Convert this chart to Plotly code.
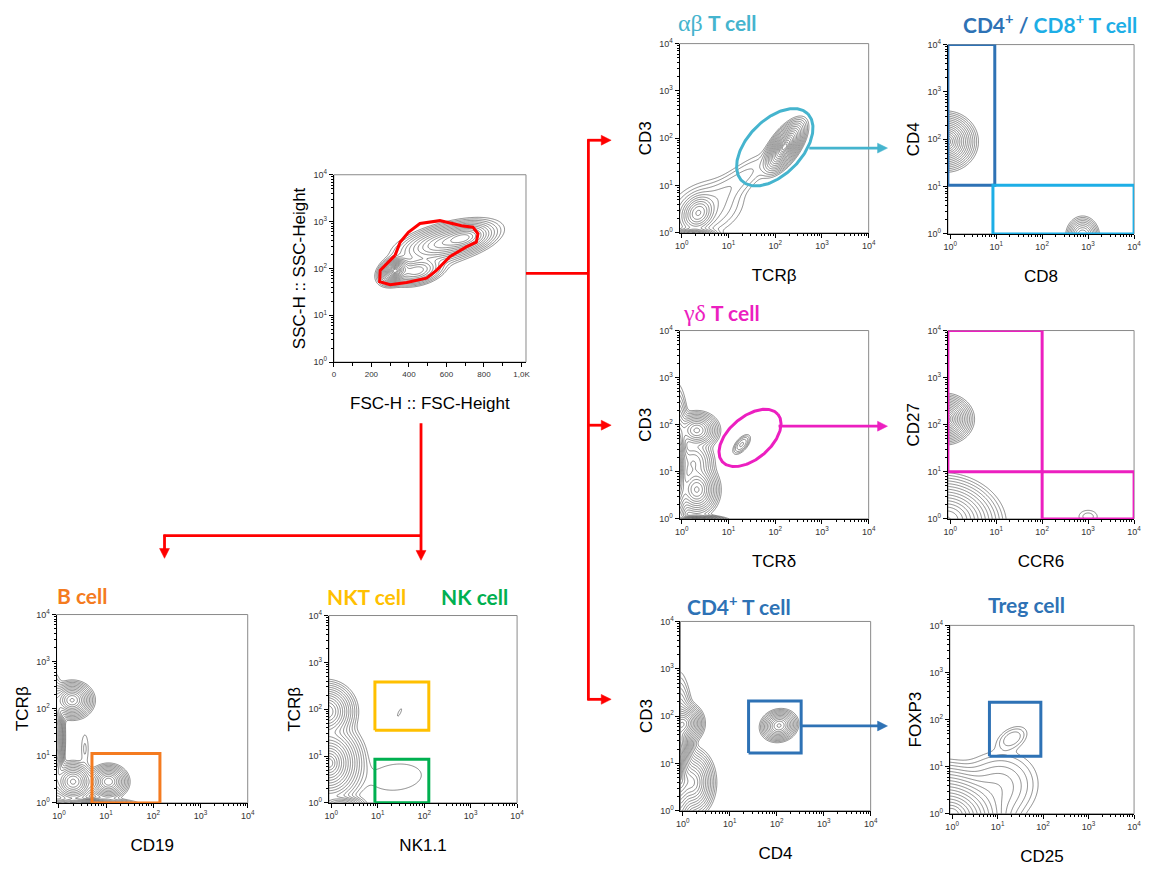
import numpy as np
import plotly.graph_objects as go

# The page body adds an 8 px margin, so the figure is drawn 8 px in from the top-left corner.
PAGE_W, PAGE_H, BODY = 1149, 870, 8
FIG_W, FIG_H = PAGE_W - BODY, PAGE_H - BODY

# ======================= DATA =======================
# Each population row: (x centre, y centre, sd x, sd y, correlation, relative peak density)
# Log-scaled axes are given in log10 units; FSC is linear.
scatter_pops = [  # FSC-H (linear) vs SSC-H (log10)
    (325, 1.95, 32, 0.11, 0.30, 1.00),
    (440, 1.95, 55, 0.12, 0.30, 0.35),
    (600, 2.56, 100, 0.17, 0.50, 0.45),
    (700, 2.66, 55, 0.12, 0.30, 0.40),
    (560, 2.35, 150, 0.32, 0.75, 0.02),
]
ab_pops = [  # TCRβ vs CD3
    (2.20, 1.82, 0.16, 0.20, 0.65, 1.00),
    (1.20, 1.10, 0.45, 0.35, 0.85, 0.02),
    (0.35, 0.42, 0.15, 0.16, 0.20, 0.35),
    (0.50, 0.50, 0.40, 0.30, 0.30, 0.04),
    (0.25, -0.05, 0.20, 0.06, 0.00, 0.50),
]
cd4cd8_pops = [  # CD8 vs CD4
    (-0.10, 1.95, 0.22, 0.20, 0.0, 1.00),
    (2.88, -0.05, 0.13, 0.15, 0.0, 0.30),
    (-0.10, -0.10, 0.08, 0.08, 0.0, 0.01),
]
gd_pops = [  # TCRδ vs CD3
    (1.28, 1.58, 0.09, 0.10, 0.60, 0.047),
    (0.32, 1.88, 0.17, 0.14, 0.00, 0.50),
    (0.32, 0.62, 0.17, 0.20, 0.00, 0.60),
    (-0.12, 1.10, 0.10, 0.55, 0.00, 1.00),
    (0.25, 1.20, 0.17, 0.20, 0.00, 0.20),
    (0.30, -0.06, 0.25, 0.05, 0.00, 0.60),
]
cd27_pops = [  # CCR6 vs CD27
    (-0.12, 2.12, 0.20, 0.17, 0.0, 1.00),
    (-0.05, 0.00, 0.40, 0.31, -0.1, 0.80),
    (3.00, 0.05, 0.15, 0.10, 0.0, 0.012),
]
cd4t_pops = [  # CD4 vs CD3
    (2.05, 1.80, 0.14, 0.12, 0.10, 0.50),
    (-0.10, 1.00, 0.12, 0.60, 0.00, 1.00),
    (0.05, 1.85, 0.14, 0.15, 0.00, 0.60),
    (0.20, 0.60, 0.17, 0.25, 0.00, 0.60),
]
treg_pops = [  # CD25 vs FOXP3
    (1.32, 1.60, 0.18, 0.14, 0.40, 0.025),
    (0.00, 0.00, 0.45, 0.36, -0.20, 1.00),
    (1.00, 0.55, 0.40, 0.35, 0.10, 0.06),
]
bcell_pops = [  # CD19 vs TCRβ
    (0.28, 2.18, 0.16, 0.14, 0.0, 0.60),
    (-0.10, 1.40, 0.08, 0.45, 0.0, 0.50),
    (0.30, 0.45, 0.16, 0.15, 0.0, 0.50),
    (1.05, 0.45, 0.15, 0.13, 0.0, 0.55),
    (0.60, -0.05, 0.40, 0.06, 0.0, 0.30),
    (0.55, 1.15, 0.06, 0.25, 0.0, 0.01),
]
nk_pops = [  # NK1.1 vs TCRβ
    (1.47, 1.93, 0.05, 0.09, 0.80, 0.0075),
    (1.40, 0.55, 0.50, 0.26, 0.15, 0.0090),
    (-0.10, 1.95, 0.22, 0.22, 0.00, 0.70),
    (-0.05, 0.85, 0.26, 0.30, 0.00, 1.00),
    (0.20, -0.05, 0.20, 0.08, 0.00, 0.30),
]

# Gates
scatter_gate_fsc = [326, 353, 397, 459, 565, 680, 741, 768, 759, 706, 618, 547, 494, 388, 300, 244, 247, 282, 326]
scatter_gate_ssc = [190, 363, 589, 912, 1047, 813, 759, 550, 363, 288, 178, 91, 62, 50, 45, 52, 91, 126, 190]
# ellipse gates: (centre x log, centre y log, semi-major, semi-minor, angle deg)
ab_gate = (1.99, 1.81, 1.00, 0.58, 45)
gd_gate = (1.46, 1.72, 0.78, 0.45, 40)
# rectangle gates (log10): (x0, x1, y0, y1)
cd4_gate = (-0.05, 0.97, 1.03, 4.0)
cd8_gate = (0.93, 4.0, 0.0, 1.03)
cd27_gate = (-0.05, 2.0, 1.0, 4.0)
ccr6_gate = (2.0, 4.0, 0.0, 1.0)
cd4t_gate = (1.40, 2.52, 1.22, 2.32)
treg_gate = (0.82, 1.95, 1.22, 2.37)
bcell_gate = (0.70, 2.14, 0.0, 1.05)
nkt_gate = (0.94, 2.10, 1.55, 2.58)
nk_gate = (0.94, 2.10, 0.0, 0.93)

log_tick_vals = [1, 10, 100, 1000, 10000]
log_tick_text = ["10<sup>0</sup>", "10<sup>1</sup>", "10<sup>2</sup>", "10<sup>3</sup>", "10<sup>4</sup>"]
fsc_tick_vals = [0, 200, 400, 600, 800, 1000]
fsc_tick_text = ["0", "200", "400", "600", "800", "1,0K"]

# ======================= STYLE / LAYOUT =======================
C_TEAL = "#45B4CE"
C_DBLUE = "#2E72B5"
C_LBLUE = "#1DAEE6"
C_MAG = "#EC1FC0"
C_ORANGE = "#F47B20"
C_YELLOW = "#FFC000"
C_GREEN = "#00B050"
C_RED = "#FF0000"
FONT = "Liberation Sans"
TFONT = "Lato"

XLO = -0.05


def px(x):
    return (x - BODY) / FIG_W


def py(y):
    return 1 - (y - BODY) / FIG_H


# panel frames in page pixels: left, right, top, bottom
panels = [
    dict(box=(333, 527, 170, 360), xt="FSC-H :: FSC-Height", yt="SSC-H :: SSC-Height", pops=scatter_pops, lin=True),
    dict(box=(682, 873, 37, 229), xt="TCRβ", yt="CD3", pops=ab_pops),
    dict(box=(953, 1141, 38, 230), xt="CD8", yt="CD4", pops=cd4cd8_pops),
    dict(box=(682, 873, 328, 519), xt="TCRδ", yt="CD3", pops=gd_pops),
    dict(box=(953, 1141, 328, 519), xt="CCR6", yt="CD27", pops=cd27_pops),
    dict(box=(683, 875, 623, 815), xt="CD4", yt="CD3", pops=cd4t_pops),
    dict(box=(955, 1141, 627, 818), xt="CD25", yt="FOXP3", pops=treg_pops),
    dict(box=(53, 246, 616, 807), xt="CD19", yt="TCRβ", pops=bcell_pops),
    dict(box=(328, 518, 617, 807), xt="NK1.1", yt="TCRβ", pops=nk_pops),
]

minor_vals = [k * 10 ** d for d in range(0, 4) for k in range(2, 10)]

fig = go.Figure()


def density_field(gx, gy, pops):
    X, Y = np.meshgrid(gx, gy)
    Z = np.zeros_like(X)
    for cx, cy, sx, sy, r, p in pops:
        u = (X - cx) / sx
        v = (Y - cy) / sy
        q = (u * u - 2 * r * u * v + v * v) / (1 - r * r)
        Z += p * np.exp(-0.5 * q)
    Z = np.maximum(Z, 1e-300)
    return np.sqrt(np.log(max(Z.max(), 1.0) / Z))


def ax_name(i, kind):
    return kind if i == 0 else f"{kind}{i + 1}"


def line_trace(i, xs, ys, color, width=3):
    fig.add_trace(go.Scatter(x=xs, y=ys, mode="lines", line=dict(color=color, width=width),
                             xaxis=ax_name(i, "x"), yaxis=ax_name(i, "y"), hoverinfo="skip",
                             showlegend=False, cliponaxis=False))


def rect_gate(i, g, color):
    x0, x1, y0, y1 = [10 ** v for v in g]
    line_trace(i, [x0, x1, x1, x0, x0], [y0, y0, y1, y1, y0], color)


def ellipse_gate(i, g, color):
    cx, cy, a, b, ang = g
    t = np.linspace(0, 2 * np.pi, 200)
    th = np.deg2rad(ang)
    ex = cx + a * np.cos(t) * np.cos(th) - b * np.sin(t) * np.sin(th)
    ey = cy + a * np.cos(t) * np.sin(th) + b * np.sin(t) * np.cos(th)
    line_trace(i, 10 ** ex, 10 ** ey, color)


layout_axes = {}
for i, p in enumerate(panels):
    l, r, t, b = p["box"]
    xdom = [px(l), px(r)]
    ydom = [py(b), py(t)]
    xa, ya = ax_name(i, "x"), ax_name(i, "y")
    common = dict(showline=True, linecolor="black", linewidth=1, mirror=False, showgrid=False,
                  zeroline=False, ticks="outside", ticklen=4, tickcolor="black", fixedrange=True,
                  tickfont=dict(family=FONT, size=9, color="#333"))
    gy = np.linspace(0, 4, 240)
    if p.get("lin"):
        gx = np.linspace(0, 1024, 240)
        xvals = gx
        xaxis = dict(common, domain=xdom, anchor=ya, range=[0, 1024], tickmode="array",
                     tickvals=fsc_tick_vals, ticktext=fsc_tick_text, tickfont=dict(family=FONT, size=8, color="#333"),
                     minor=dict(tickmode="array", tickvals=[100, 300, 500, 700, 900], ticks="outside",
                                ticklen=3, tickcolor="black", showgrid=False),
                     title=dict(text=p["xt"], font=dict(family=FONT, size=17, color="black"), standoff=19))
    else:
        gx = np.linspace(XLO, 4, 240)
        xvals = 10 ** gx
        xaxis = dict(common, domain=xdom, anchor=ya, type="log", range=[XLO, 4], tickmode="array",
                     tickvals=log_tick_vals, ticktext=log_tick_text,
                     minor=dict(tickmode="array", tickvals=minor_vals, ticks="outside", ticklen=2,
                                tickcolor="black", showgrid=False),
                     title=dict(text=p["xt"], font=dict(family=FONT, size=17, color="black"), standoff=19))
    yaxis = dict(common, domain=ydom, anchor=xa, type="log", range=[0, 4], tickmode="array",
                 tickvals=log_tick_vals, ticktext=log_tick_text,
                 minor=dict(tickmode="array", tickvals=minor_vals, ticks="outside", ticklen=2,
                            tickcolor="black", showgrid=False),
                 title=dict(text=p["yt"], font=dict(family=FONT, size=17, color="black"), standoff=3))
    layout_axes["xaxis" if i == 0 else f"xaxis{i + 1}"] = xaxis
    layout_axes["yaxis" if i == 0 else f"yaxis{i + 1}"] = yaxis

    zz = density_field(gx, gy, p["pops"])
    fig.add_trace(go.Contour(x=xvals, y=10 ** gy, z=zz, xaxis=xa, yaxis=ya,
                             contours=dict(coloring="lines", start=0.22, end=2.35, size=0.13),
                             colorscale=[[0, "#404040"], [1, "#404040"]], showscale=False,
                             line=dict(width=0.6, smoothing=1), hoverinfo="skip"))
    # frame (top/right in grey)
    fig.add_shape(type="rect", xref=f"{xa} domain", yref=f"{ya} domain", x0=0, x1=1, y0=0, y1=1,
                  line=dict(color="#8a8a8a", width=1), layer="below")

# gates
line_trace(0, scatter_gate_fsc, scatter_gate_ssc, C_RED, 3)
ellipse_gate(1, ab_gate, C_TEAL)
rect_gate(2, cd4_gate, C_DBLUE)
rect_gate(2, cd8_gate, C_LBLUE)
ellipse_gate(3, gd_gate, C_MAG)
rect_gate(4, cd27_gate, C_MAG)
rect_gate(4, ccr6_gate, C_MAG)
rect_gate(5, cd4t_gate, C_DBLUE)
rect_gate(6, treg_gate, C_DBLUE)
rect_gate(7, bcell_gate, C_ORANGE)
rect_gate(8, nkt_gate, C_YELLOW)
rect_gate(8, nk_gate, C_GREEN)


def seg(x0, y0, x1, y1, color=C_RED, w=2.8):
    fig.add_shape(type="line", xref="paper", yref="paper", x0=px(x0), y0=py(y0), x1=px(x1), y1=py(y1),
                  line=dict(color=color, width=w))


def arrow(x0, y0, x1, y1, color=C_RED, w=2.8, hl=10, hw=5):
    d = np.array([x1 - x0, y1 - y0], float)
    d /= np.hypot(*d)
    n = np.array([-d[1], d[0]])
    base = np.array([x1, y1]) - hl * d
    seg(x0, y0, base[0] + d[0], base[1] + d[1], color, w)
    p1 = base + hw * n
    p2 = base - hw * n
    path = (f"M {px(x1)},{py(y1)} L {px(p1[0])},{py(p1[1])} "
            f"L {px(p2[0])},{py(p2[1])} Z")
    fig.add_shape(type="path", xref="paper", yref="paper", path=path, fillcolor=color,
                  line=dict(color=color, width=0.5))


# red connectors
seg(527, 270, 590, 270)
seg(590, 134, 590, 703)
arrow(589, 135, 613, 135)
arrow(589, 424, 613, 424)
arrow(589, 702, 613, 702)
arrow(421, 422, 421, 561)
seg(161, 536, 422, 536)
arrow(162, 535, 162, 559)
# coloured arrows
arrow(813, 143, 892, 143, C_TEAL)
arrow(782, 425, 892, 425, C_MAG)
arrow(804, 729, 892, 729, C_DBLUE)

# panel titles
serif = "font-family:'Liberation Serif';font-weight:normal;font-size:24px"
titles = [
    (678, 16, f"<span style=\"{serif}\">αβ</span> T cell", C_TEAL),
    (966, 16, f"<span style='color:{C_DBLUE}'>CD4<sup>+</sup> /</span> <span style='color:{C_LBLUE}'>CD8<sup>+</sup> T cell</span>", C_DBLUE),
    (684, 310, f"<span style=\"{serif}\">γδ</span> T cell", C_MAG),
    (688, 606, "CD4<sup>+</sup> T cell", C_DBLUE),
    (991, 606, "Treg cell", C_DBLUE),
    (51, 597, "B cell", C_ORANGE),
    (324, 598, "NKT cell", C_YELLOW),
    (439, 598, "NK cell", C_GREEN),
]
for x, y, txt, col in titles:
    fig.add_annotation(x=px(x), y=py(y), xref="paper", yref="paper", text=f"<b>{txt}</b>", showarrow=False,
                       xanchor="left", yanchor="middle", font=dict(family=TFONT, size=21, color=col))

fig.update_layout(width=FIG_W, height=FIG_H, margin=dict(l=0, r=0, t=0, b=0), paper_bgcolor="white",
                  plot_bgcolor="white", showlegend=False, **layout_axes)

fig.write_html("out.html")
